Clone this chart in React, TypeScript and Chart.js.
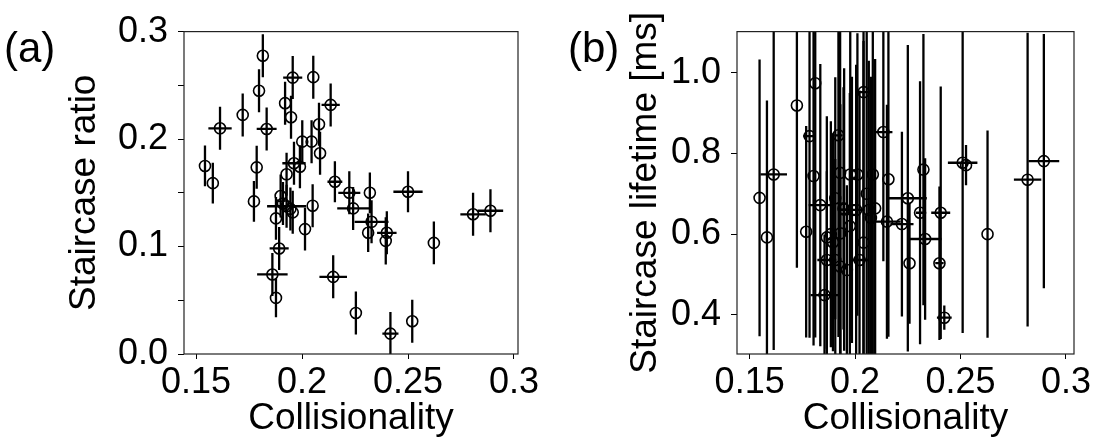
import React, { useEffect, useRef } from "react";
import Chart from "chart.js/auto";

const FONT = "'Liberation Sans', Arial, Helvetica, sans-serif";

// (a) staircase ratio against collisionality
const ratioX = [
  0.1542, 0.1579, 0.1613, 0.172, 0.1815, 0.1797, 0.1833, 0.1786, 0.1773, 0.192,
  0.1948, 0.1956, 0.2053, 0.2135, 0.208, 0.2001, 0.2045, 0.2085, 0.1962, 0.199,
  0.1927, 0.2155, 0.205, 0.2223, 0.232, 0.25, 0.2241, 0.2807, 0.2889, 0.2014,
  0.2328, 0.2312, 0.24, 0.2395, 0.2622, 0.2147, 0.2254, 0.2417, 0.252, 0.1899,
  0.1927, 0.1877, 0.1956, 0.1892, 0.186, 0.1877, 0.1945, 0.191,
];
const ratioY = [
  0.175, 0.159, 0.21, 0.2225, 0.2775, 0.245, 0.2094, 0.1737, 0.142, 0.2334,
  0.2203, 0.2572, 0.2576, 0.2318, 0.2138, 0.1976, 0.1976, 0.1868, 0.1775, 0.1743,
  0.1672, 0.1603, 0.138, 0.15, 0.15, 0.151, 0.1355, 0.13, 0.1333, 0.1162,
  0.123, 0.1128, 0.1128, 0.1053, 0.1034, 0.0718, 0.0382, 0.019, 0.0305, 0.147,
  0.1375, 0.1262, 0.1318, 0.0982, 0.074, 0.0522, 0.135, 0.14,
];
const ratioXErr = [
  0, 0, 0.0055, 0, 0, 0, 0.0047, 0, 0, 0,
  0, 0.0045, 0, 0.0043, 0, 0, 0, 0, 0.0055, 0,
  0, 0.0035, 0, 0.0052, 0, 0.0069, 0.0075, 0.006, 0.006, 0,
  0.008, 0, 0.0046, 0, 0, 0.0065, 0, 0.0038, 0, 0,
  0.0092, 0, 0, 0.0045, 0.0072, 0, 0, 0,
];
const ratioYErr = [
  0.019, 0.019, 0.02, 0.02, 0.02, 0.02, 0.02, 0.02, 0.019, 0.02,
  0.02, 0.02, 0.02, 0.02, 0.02, 0.02, 0.02, 0.02, 0.02, 0.02,
  0.02, 0.019, 0.02, 0.02, 0.019, 0.019, 0.02, 0.02, 0.02, 0.02,
  0.02, 0.018, 0.02, 0.022, 0.02, 0.02, 0.02, 0.02, 0.02, 0.02,
  0.02, 0.02, 0.02, 0.02, 0.02, 0.018, 0.02, 0.02,
];

// (b) staircase lifetime [ms] against collisionality
const lifeX = [
  0.1547, 0.1614, 0.1582, 0.1724, 0.1811, 0.1784, 0.1803, 0.1835, 0.1768, 0.1921,
  0.1929, 0.1977, 0.2011, 0.204, 0.2134, 0.2084, 0.2158, 0.2095, 0.1948, 0.1906,
  0.1866, 0.193, 0.1945, 0.1985, 0.1906, 0.1866, 0.1929, 0.1961, 0.2021, 0.204,
  0.2151, 0.1855, 0.225, 0.2222, 0.2258, 0.2324, 0.2308, 0.2332, 0.2406, 0.24,
  0.2423, 0.251, 0.2526, 0.2628, 0.2818, 0.2895, 0.1975, 0.2055, 0.2065, 0.2075,
  0.1885, 0.1895, 0.2005,
];
const lifeY = [
  0.69, 0.748, 0.592, 0.919, 0.974, 0.843, 0.744, 0.672, 0.606, 0.845,
  0.752, 0.748, 0.748, 0.952, 0.853, 0.748, 0.736, 0.664, 0.661, 0.689,
  0.592, 0.602, 0.664, 0.66, 0.536, 0.536, 0.52, 0.511, 0.536, 0.579,
  0.631, 0.449, 0.689, 0.625, 0.528, 0.76, 0.653, 0.588, 0.653, 0.528,
  0.393, 0.777, 0.771, 0.6, 0.735, 0.781, 0.62, 0.7, 0.66, 0.64,
  0.6, 0.58, 0.66,
];
const lifeXErr = [
  0, 0.0063, 0, 0, 0, 0.003, 0, 0.0055, 0, 0.002,
  0, 0, 0, 0.0035, 0.0043, 0, 0, 0, 0.003, 0,
  0, 0, 0, 0.006, 0, 0.0045, 0, 0, 0.004, 0,
  0.0065, 0.0066, 0.009, 0.0055, 0, 0, 0.002, 0.0078, 0.0045, 0.002,
  0.0035, 0.007, 0, 0, 0.0065, 0.0073, 0, 0, 0, 0,
  0, 0, 0,
];
const lifeYErr = [
  0.343, 0.435, 0.339, 0.402, 0.63, 0.5, 0.42, 0.35, 0.262, 0.5,
  0.45, 0.4, 0.35, 0.65, 0.32, 0.45, 0.39, 0.37, 0.35, 0.3,
  0.3, 0.32, 0.3, 0.33, 0.25, 0.22, 0.22, 0.21, 0.42, 0.5,
  0.29, 0.15, 0.38, 0.229, 0.15, 0.336, 0.326, 0.2, 0.313, 0.19,
  0.03, 0.422, 0.05, 0.257, 0.364, 0.315, 0.33, 0.42, 0.37, 0.35,
  0.28, 0.27, 0.36,
];

const xTicks = [0.15, 0.2, 0.25, 0.3];
const ratioTicks = [0, 0.05, 0.1, 0.15, 0.2, 0.25, 0.3];
const lifeTicks = [0.4, 0.6, 0.8, 1.0];

const errorBars = {
  id: "errorBars",
  beforeDatasetsDraw(chart: any) {
    const { ctx, chartArea, scales } = chart;
    const xs = scales.x;
    const ys = scales.y;
    ctx.save();
    ctx.beginPath();
    ctx.rect(chartArea.left, chartArea.top, chartArea.width, chartArea.height);
    ctx.clip();
    ctx.strokeStyle = "#000";
    ctx.lineWidth = 2.3;
    chart.data.datasets.forEach((ds: any) => {
      ds.data.forEach((p: any) => {
        const px = xs.getPixelForValue(p.x);
        const py = ys.getPixelForValue(p.y);
        ctx.beginPath();
        if (p.yerr) {
          ctx.moveTo(px, ys.getPixelForValue(p.y - p.yerr));
          ctx.lineTo(px, ys.getPixelForValue(p.y + p.yerr));
        }
        if (p.xerr) {
          ctx.moveTo(xs.getPixelForValue(p.x - p.xerr), py);
          ctx.lineTo(xs.getPixelForValue(p.x + p.xerr), py);
        }
        ctx.stroke();
      });
    });
    ctx.restore();
  },
};

const frame = {
  id: "frame",
  afterDraw(chart: any) {
    const { ctx, chartArea } = chart;
    ctx.save();
    ctx.strokeStyle = "#222";
    ctx.lineWidth = 1.2;
    ctx.strokeRect(chartArea.left, chartArea.top, chartArea.width, chartArea.height);
    ctx.restore();
  },
};

interface PanelProps {
  xs: number[];
  ys: number[];
  xerr: number[];
  yerr: number[];
  xMin: number;
  xMax: number;
  yMin: number;
  yMax: number;
  yTicks: number[];
  yLabel: (v: number) => string;
  yTitle: string;
  yAxisWidth: number;
  padRight: number;
  yTitlePad: number;
  left: number;
}

const Panel: React.FC<PanelProps> = (p) => {
  const canvasRef = useRef<HTMLCanvasElement | null>(null);

  useEffect(() => {
    if (!canvasRef.current) return;
    const points = p.xs.map((x, i) => ({ x, y: p.ys[i], xerr: p.xerr[i], yerr: p.yerr[i] }));
    const chart = new Chart(canvasRef.current, {
      type: "scatter",
      data: {
        datasets: [
          {
            data: points,
            pointStyle: "circle",
            pointRadius: 5.5,
            pointHoverRadius: 5.5,
            pointBorderWidth: 1.6,
            pointBorderColor: "#000",
            pointBackgroundColor: "rgba(0,0,0,0)",
          },
        ],
      },
      options: {
        animation: false,
        responsive: false,
        events: [],
        layout: { padding: { left: 0, top: 31, right: p.padRight, bottom: 0 } },
        plugins: { legend: { display: false }, tooltip: { enabled: false } },
        scales: {
          x: {
            type: "linear",
            min: p.xMin,
            max: p.xMax,
            border: { display: false },
            grid: { drawOnChartArea: false, drawTicks: true, tickLength: 5, color: "#000" },
            afterBuildTicks: (s: any) => {
              s.ticks = xTicks.map((v) => ({ value: v }));
            },
            afterFit: (s: any) => {
              s.height = 93;
            },
            ticks: {
              color: "#000",
              padding: 2,
              maxRotation: 0,
              font: { family: FONT, size: 36 },
              callback: (v: any) => String(+(+v).toFixed(2)),
            },
            title: {
              display: true,
              text: "Collisionality",
              color: "#000",
              font: { family: FONT, size: 37 },
              padding: { top: 0, bottom: 6 },
            },
          },
          y: {
            type: "linear",
            min: p.yMin,
            max: p.yMax,
            border: { display: false },
            grid: { drawOnChartArea: false, drawTicks: true, tickLength: 6, color: "#000" },
            afterBuildTicks: (s: any) => {
              s.ticks = p.yTicks.map((v) => ({ value: v }));
            },
            afterFit: (s: any) => {
              s.width = p.yAxisWidth;
            },
            ticks: {
              color: "#000",
              padding: 10,
              font: { family: FONT, size: 36 },
              callback: (v: any) => p.yLabel(+v),
            },
            title: {
              display: true,
              text: p.yTitle,
              color: "#000",
              font: { family: FONT, size: 37 },
              padding: { top: p.yTitlePad, bottom: 0 },
            },
          },
        },
      },
      plugins: [errorBars, frame],
    });
    return () => chart.destroy();
  }, []);

  return (
    <canvas
      ref={canvasRef}
      width={549}
      height={447}
      style={{ position: "absolute", left: p.left, top: 0, width: 549, height: 447 }}
    />
  );
};

const tag: React.CSSProperties = {
  position: "absolute",
  top: 27,
  fontFamily: FONT,
  fontSize: 42,
  lineHeight: "42px",
  color: "#000",
};

export default function App() {
  useEffect(() => {
    document.body.style.margin = "0";
  }, []);

  return (
    <div style={{ position: "absolute", left: 0, top: 0, width: 1098, height: 447, background: "#fff" }}>
      <Panel
        xs={ratioX}
        ys={ratioY}
        xerr={ratioXErr}
        yerr={ratioYErr}
        xMin={0.1443}
        xMax={0.3019}
        yMin={0}
        yMax={0.3}
        yTicks={ratioTicks}
        yLabel={(v) => (Math.abs(v * 10 - Math.round(v * 10)) < 1e-6 ? v.toFixed(1) : "")}
        yTitle="Staircase ratio"
        yAxisWidth={184}
        padRight={31}
        yTitlePad={63}
        left={0}
      />
      <Panel
        xs={lifeX}
        ys={lifeY}
        xerr={lifeXErr}
        yerr={lifeYErr}
        xMin={0.144}
        xMax={0.3038}
        yMin={0.303}
        yMax={1.102}
        yTicks={lifeTicks}
        yLabel={(v) => v.toFixed(1)}
        yTitle="Staircase lifetime [ms]"
        yAxisWidth={188}
        padRight={24}
        yTitlePad={75}
        left={549}
      />
      <div style={{ ...tag, left: 4 }}>(a)</div>
      <div style={{ ...tag, left: 568 }}>(b)</div>
    </div>
  );
}
